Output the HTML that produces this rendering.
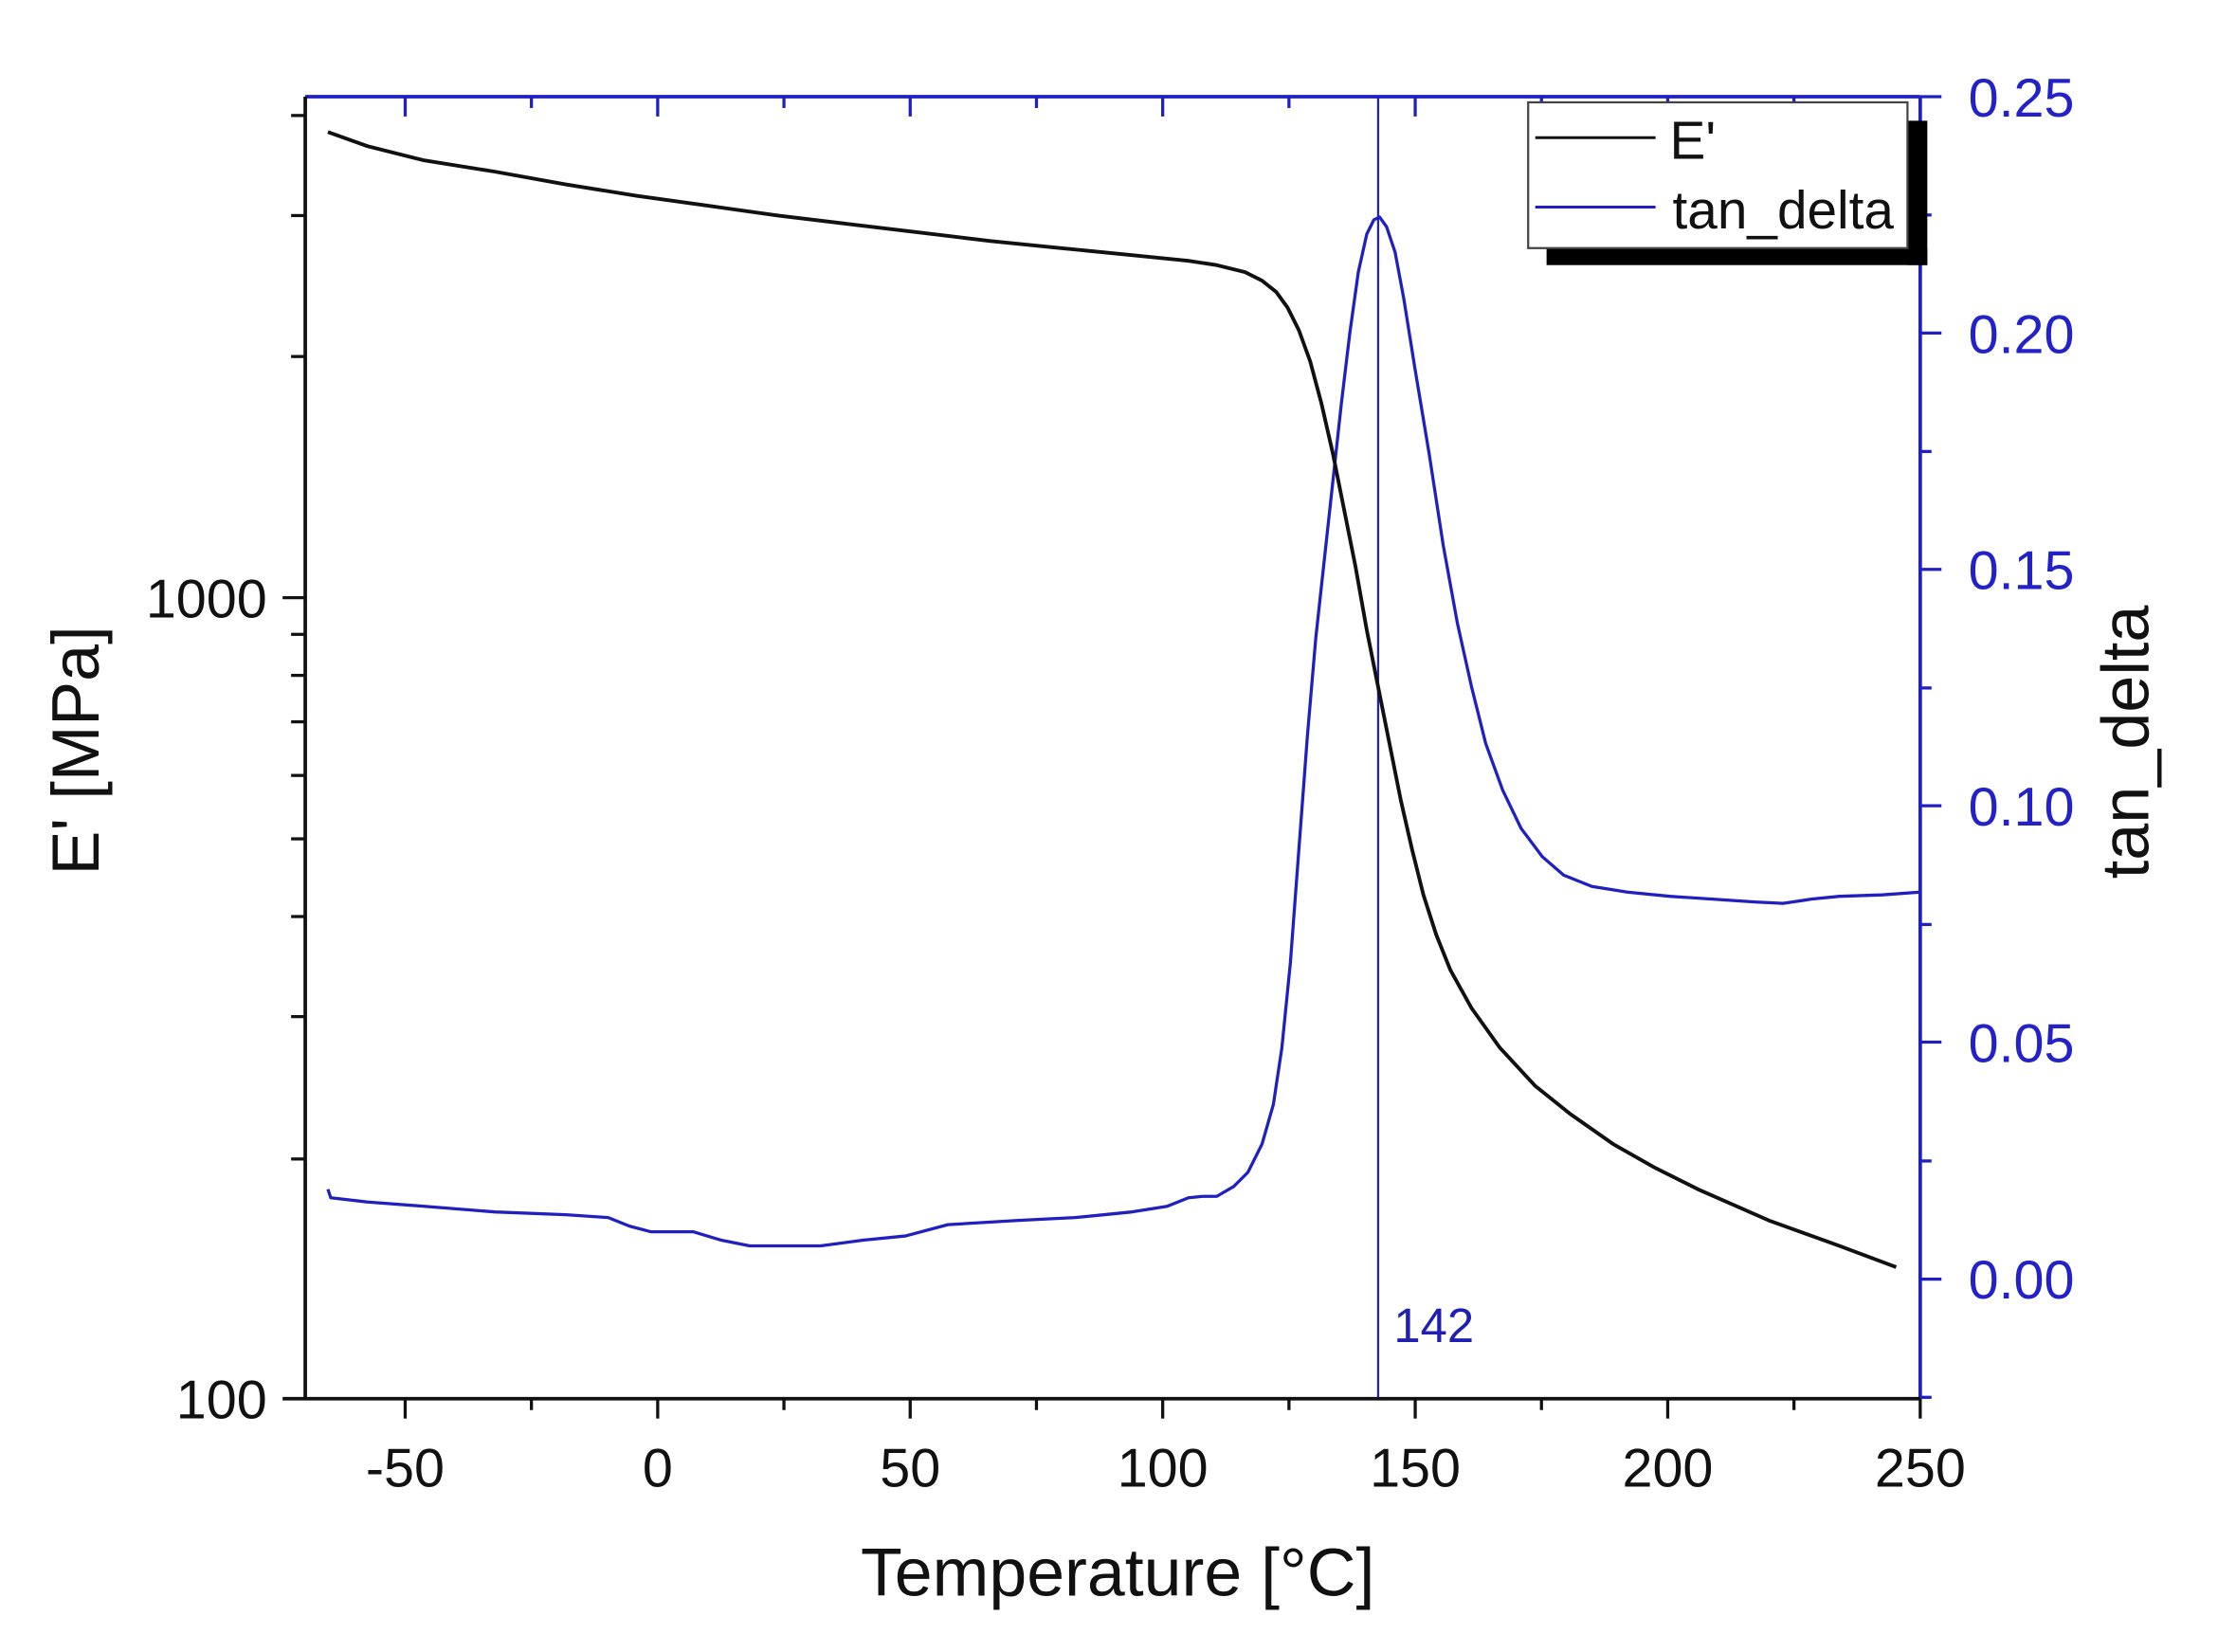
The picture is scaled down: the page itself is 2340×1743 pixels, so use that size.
<!DOCTYPE html>
<html><head><meta charset="utf-8"><style>
html,body{margin:0;padding:0;background:#fff}
svg{display:block}
text{font-family:"Liberation Sans",Arial,sans-serif}
</style></head><body>
<svg width="2340" height="1743" viewBox="0 0 1560 1162" xmlns="http://www.w3.org/2000/svg">
<rect width="1560" height="1162" fill="#fff"/>
<g transform="translate(214.7,68) scale(0.9955) translate(-216,-68)">
<line x1="974" y1="68" x2="974" y2="988" stroke="#2020c0" stroke-width="1.5"/>
<text x="985" y="948" font-size="34" fill="#2020b0">142</text>
<polyline fill="none" stroke="#2020c0" stroke-width="2.2" stroke-linejoin="round" points="232,840 234,846 260,849 300,852 350,856 400,858 430,860 445,866 460,870 490,870 510,876 530,880 580,880 610,876 640,873 670,865 720,862 760,860 800,856 825,852 840,846 850,845 860,845 872,838 882,828 892,808 900,780 906,740 912,680 918,600 924,520 930,450 936,395 942,340 948,285 954,235 960,192 966,165 971,155 975,153 980,160 986,178 992,210 1000,260 1010,320 1020,385 1030,440 1040,485 1050,525 1062,558 1075,585 1090,605 1105,618 1125,626 1150,630 1180,633 1210,635 1240,637 1260,638 1280,635 1300,633 1330,632 1357,630"/>
<polyline fill="none" stroke="#111" stroke-width="2.6" stroke-linejoin="round" points="232,93 260,103 300,113 350,121 400,130 450,138 500,145 550,152 600,158 650,164 700,170 750,175 800,180 840,184 860,187 880,192 892,198 902,206 910,217 918,233 926,255 934,285 942,320 950,360 958,400 966,445 974,485 982,525 990,565 998,600 1006,632 1015,660 1025,685 1040,712 1060,740 1085,767 1110,787 1140,808 1170,825 1200,840 1250,862 1300,880 1340,895"/>
<line x1="216" y1="68" x2="1357" y2="68" stroke="#2020c0" stroke-width="2.5"/>
<line x1="1357" y1="68" x2="1357" y2="988" stroke="#2020c0" stroke-width="2.5"/>
<line x1="216" y1="68" x2="216" y2="989" stroke="#111" stroke-width="2.5"/>
<line x1="200" y1="988" x2="1357" y2="988" stroke="#111" stroke-width="2.5"/>
<g stroke="#111" stroke-width="2.2">
<line x1="286.6" y1="988" x2="286.6" y2="1002"/><line x1="465" y1="988" x2="465" y2="1002"/><line x1="643.4" y1="988" x2="643.4" y2="1002"/><line x1="821.8" y1="988" x2="821.8" y2="1002"/><line x1="1000.2" y1="988" x2="1000.2" y2="1002"/><line x1="1178.6" y1="988" x2="1178.6" y2="1002"/><line x1="1357" y1="988" x2="1357" y2="1002"/>
<line x1="375.8" y1="988" x2="375.8" y2="996"/><line x1="554.2" y1="988" x2="554.2" y2="996"/><line x1="732.6" y1="988" x2="732.6" y2="996"/><line x1="911" y1="988" x2="911" y2="996"/><line x1="1089.4" y1="988" x2="1089.4" y2="996"/><line x1="1267.8" y1="988" x2="1267.8" y2="996"/>
<line x1="200" y1="422" x2="216" y2="422"/>
<line x1="206" y1="818.6" x2="216" y2="818.6"/><line x1="206" y1="718" x2="216" y2="718"/><line x1="206" y1="647.3" x2="216" y2="647.3"/><line x1="206" y1="592.4" x2="216" y2="592.4"/><line x1="206" y1="547.6" x2="216" y2="547.6"/><line x1="206" y1="509.7" x2="216" y2="509.7"/><line x1="206" y1="476.9" x2="216" y2="476.9"/><line x1="206" y1="447.9" x2="216" y2="447.9"/>
<line x1="206" y1="251.6" x2="216" y2="251.6"/><line x1="206" y1="152" x2="216" y2="152"/><line x1="206" y1="81.3" x2="216" y2="81.3"/>
</g>
<g stroke="#2020c0" stroke-width="2.2">
<line x1="286.6" y1="68" x2="286.6" y2="82"/><line x1="465" y1="68" x2="465" y2="82"/><line x1="643.4" y1="68" x2="643.4" y2="82"/><line x1="821.8" y1="68" x2="821.8" y2="82"/><line x1="1000.2" y1="68" x2="1000.2" y2="82"/><line x1="1178.6" y1="68" x2="1178.6" y2="82"/>
<line x1="375.8" y1="68" x2="375.8" y2="76"/><line x1="554.2" y1="68" x2="554.2" y2="76"/><line x1="732.6" y1="68" x2="732.6" y2="76"/><line x1="911" y1="68" x2="911" y2="76"/><line x1="1089.4" y1="68" x2="1089.4" y2="76"/><line x1="1267.8" y1="68" x2="1267.8" y2="76"/>
<line x1="1357" y1="68" x2="1372" y2="68"/><line x1="1357" y1="235" x2="1372" y2="235"/><line x1="1357" y1="402" x2="1372" y2="402"/><line x1="1357" y1="569" x2="1372" y2="569"/><line x1="1357" y1="736" x2="1372" y2="736"/><line x1="1357" y1="903.5" x2="1372" y2="903.5"/>
<line x1="1357" y1="151.6" x2="1365" y2="151.6"/><line x1="1357" y1="318.7" x2="1365" y2="318.7"/><line x1="1357" y1="485.8" x2="1365" y2="485.8"/><line x1="1357" y1="652.9" x2="1365" y2="652.9"/><line x1="1357" y1="820" x2="1365" y2="820"/><line x1="1357" y1="987" x2="1365" y2="987"/>
</g>
<g font-size="38.5" fill="#111" text-anchor="middle">
<text x="286.6" y="1050">-50</text><text x="465" y="1050">0</text><text x="643.4" y="1050">50</text><text x="821.8" y="1050">100</text><text x="1000.2" y="1050">150</text><text x="1178.6" y="1050">200</text><text x="1357" y="1050">250</text>
</g>
<g font-size="38.5" fill="#111" text-anchor="end">
<text x="189" y="436">1000</text><text x="189" y="1002">100</text>
</g>
<g font-size="38.5" fill="#2222c8">
<text x="1391" y="82">0.25</text><text x="1391" y="249">0.20</text><text x="1391" y="416">0.15</text><text x="1391" y="583">0.10</text><text x="1391" y="750">0.05</text><text x="1391" y="917">0.00</text>
</g>
<text x="790" y="1127" font-size="48" fill="#111" text-anchor="middle">Temperature [°C]</text>
<text transform="translate(70,530) rotate(-90)" font-size="47" fill="#111" text-anchor="middle">E' [MPa]</text>
<text transform="translate(1518,524) rotate(-90)" font-size="47" fill="#111" text-anchor="middle">tan_delta</text>
<rect x="1093" y="175" width="269" height="12" fill="#000"/>
<rect x="1348" y="85" width="14" height="102" fill="#000"/>
<rect x="1080" y="72" width="268" height="103" fill="#fff" stroke="#444" stroke-width="1.5"/>
<line x1="1085" y1="97" x2="1170" y2="97" stroke="#111" stroke-width="2"/>
<line x1="1085" y1="146" x2="1170" y2="146" stroke="#2020c0" stroke-width="2"/>
<text x="1180" y="112" font-size="38" fill="#111">E'</text>
<text x="1182" y="161" font-size="38" fill="#111">tan_delta</text>
</g>
</svg>
</body></html>
